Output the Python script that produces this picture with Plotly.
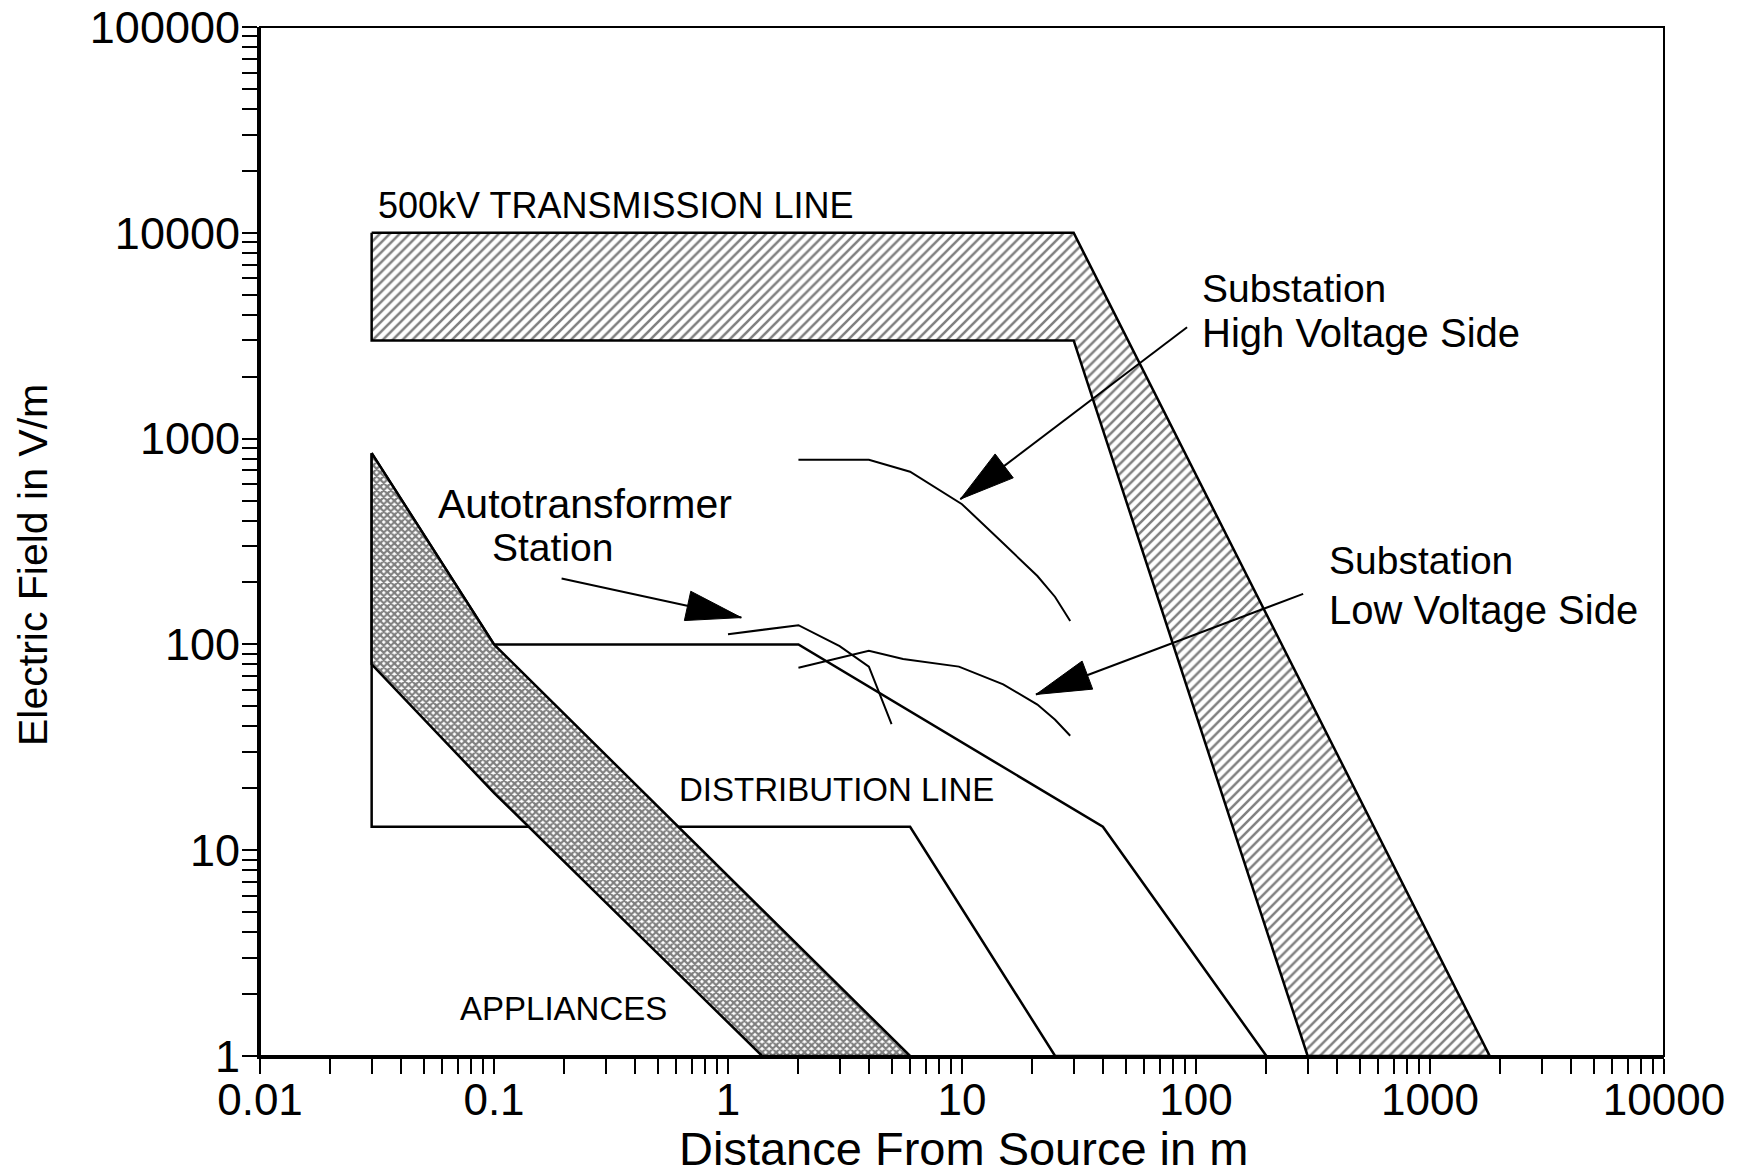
import math
import plotly.graph_objects as go

# ---------------- data ----------------
trans_upper_x = [0.03, 30, 1800]
trans_upper_y = [10000, 10000, 1]
trans_lower_x = [0.03, 30, 300]
trans_lower_y = [3000, 3000, 1]

dist_upper_x = [0.1, 2, 40, 100, 200]
dist_upper_y = [100, 100, 13, 3, 1]
dist_lower_x = [0.03, 6, 25]
dist_lower_y = [13, 13, 1]

app_upper_x = [0.03, 0.1, 6]
app_upper_y = [850, 100, 1]
app_lower_x = [0.03, 0.1, 1.4]
app_lower_y = [80, 19, 1]

hv_x = [2, 4, 6, 10, 15, 21, 25, 29]
hv_y = [790, 790, 690, 480, 310, 215, 170, 130]
lv_x = [2, 4, 5.6, 9.7, 15, 21, 25, 29]
lv_y = [77, 93, 85, 78, 64, 51, 43, 36]
auto_x = [1, 2, 3, 4, 5]
auto_y = [112, 124, 98, 78, 41]

x_tick_vals = [0.01, 0.1, 1, 10, 100, 1000, 10000]
x_tick_text = ["0.01", "0.1", "1", "10", "100", "1000", "10000"]
y_tick_vals = [1, 10, 100, 1000, 10000, 100000]
y_tick_text = ["1", "10", "100", "1000", "10000", "100000"]

# arrows: (tail x, tail y, tip x, tip y)
arrow_tail_x = [91.6, 287, 0.1945]
arrow_tail_y = [3475, 176, 209]
arrow_tip_x = [9.84, 20.7, 1.14]
arrow_tip_y = [508, 57.1, 135]

# ---------------- layout geometry ----------------
W, H = 1751, 1172
OFF = 8  # page body margin of the html
ML, MT = 260 - OFF, 27 - OFF
MR = W - (1664 - OFF)
MB = H - (1056 - OFF)
PW, PH = W - ML - MR, H - MT - MB
XR, YR = (-2, 4), (0, 5)
PXD = PW / (XR[1] - XR[0])   # px per decade x
PYD = PH / (YR[1] - YR[0])   # px per decade y

FONT = "Liberation Sans, Arial, Helvetica, sans-serif"

fig = go.Figure()

def poly(xu, yu, xl, yl):
    xs = list(xu) + list(xl)[::-1] + [xu[0]]
    ys = list(yu) + list(yl)[::-1] + [yu[0]]
    return xs, ys

# transmission line band
tx, ty = poly(trans_upper_x, trans_upper_y, trans_lower_x, trans_lower_y)
fig.add_trace(go.Scatter(
    x=tx, y=ty, mode="lines", fill="toself",
    line=dict(color="black", width=2.5),
    fillcolor="white",
    fillpattern=dict(shape="/", fgcolor="black", bgcolor="white", size=7, solidity=0.36),
    hoverinfo="skip", showlegend=False))

# distribution line outline
dx = dist_upper_x + dist_lower_x[::-1] + [app_upper_x[0], dist_upper_x[0]]
dy = dist_upper_y + dist_lower_y[::-1] + [app_upper_y[0], dist_upper_y[0]]
fig.add_trace(go.Scatter(x=dx, y=dy, mode="lines",
                         line=dict(color="black", width=2.5),
                         hoverinfo="skip", showlegend=False))

# appliances band
ax_, ay_ = poly(app_upper_x, app_upper_y, app_lower_x, app_lower_y)
fig.add_trace(go.Scatter(
    x=ax_, y=ay_, mode="lines", fill="toself",
    line=dict(color="black", width=2.5),
    fillcolor="white",
    fillpattern=dict(shape="x", fgcolor="black", bgcolor="white", size=5, solidity=0.68),
    hoverinfo="skip", showlegend=False))

# substation / autotransformer curves
for xs, ys in [(hv_x, hv_y), (lv_x, lv_y), (auto_x, auto_y)]:
    fig.add_trace(go.Scatter(x=xs, y=ys, mode="lines",
                             line=dict(color="black", width=2),
                             hoverinfo="skip", showlegend=False))

# arrows (shaft + filled triangular head)
HEAD_LEN, HEAD_W = 55, 30
for tx0, ty0, tx1, ty1 in zip(arrow_tail_x, arrow_tail_y, arrow_tip_x, arrow_tip_y):
    p0 = (math.log10(tx0) * PXD, -math.log10(ty0) * PYD)
    p1 = (math.log10(tx1) * PXD, -math.log10(ty1) * PYD)
    dxp, dyp = p1[0] - p0[0], p1[1] - p0[1]
    L = math.hypot(dxp, dyp)
    ux, uy = dxp / L, dyp / L
    nx, ny = -uy, ux
    bx, by = p1[0] - ux * HEAD_LEN, p1[1] - uy * HEAD_LEN
    c1 = (bx + nx * HEAD_W / 2, by + ny * HEAD_W / 2)
    c2 = (bx - nx * HEAD_W / 2, by - ny * HEAD_W / 2)

    def back(p):
        return 10 ** (p[0] / PXD), 10 ** (-p[1] / PYD)

    fig.add_trace(go.Scatter(x=[tx0, tx1], y=[ty0, ty1], mode="lines",
                             line=dict(color="black", width=2),
                             hoverinfo="skip", showlegend=False))
    pts = [back(p1), back(c1), back(c2), back(p1)]
    fig.add_trace(go.Scatter(x=[p[0] for p in pts], y=[p[1] for p in pts],
                             mode="lines", fill="toself", fillcolor="black",
                             line=dict(color="black", width=1),
                             hoverinfo="skip", showlegend=False))

# ---------------- labels ----------------
labels = [
    ("500kV TRANSMISSION LINE", -1.504, 4.132, "left", 36),
    ("Substation", 2.019, 3.731, "left", 39),
    ("High Voltage Side", 2.019, 3.514, "left", 40),
    ("Autotransformer", -0.611, 2.684, "center", 41),
    ("Station", -0.749, 2.473, "center", 39),
    ("Substation", 2.558, 2.408, "left", 39),
    ("Low Voltage Side", 2.558, 2.169, "left", 40),
    ("DISTRIBUTION LINE", 0.465, 1.296, "center", 33),
    ("APPLIANCES", -0.704, 0.233, "center", 33),
]
for text, lx, ly, anchor, size in labels:
    fig.add_annotation(x=lx, y=ly, xref="x", yref="y", text=text, showarrow=False,
                       xanchor=anchor, yanchor="middle",
                       font=dict(family=FONT, size=size, color="black"))

# axis titles (positions given in page pixels)
def px_to_paper(px, py):
    return (px - OFF - ML) / PW, (MT + PH - (py - OFF)) / PH

tx_, ty_ = px_to_paper(33, 565)
fig.add_annotation(x=tx_, y=ty_, xref="paper", yref="paper",
                   text="Electric Field in V/m", textangle=-90, showarrow=False,
                   xanchor="center", yanchor="middle",
                   font=dict(family=FONT, size=41, color="black"))
tx_, ty_ = px_to_paper(963, 1148)
fig.add_annotation(x=tx_, y=ty_, xref="paper", yref="paper",
                   text="Distance From Source in m", showarrow=False,
                   xanchor="center", yanchor="middle",
                   font=dict(family=FONT, size=47, color="black"))

minor_x = [m * 10 ** e for e in range(-2, 4) for m in range(2, 10)]
minor_y = [m * 10 ** e for e in range(0, 5) for m in range(2, 10)]

fig.update_xaxes(type="log", range=list(XR), tickmode="array",
                 tickvals=x_tick_vals, ticktext=x_tick_text,
                 ticks="outside", ticklen=15, tickwidth=2, tickcolor="black",
                 showline=True, linecolor="black", linewidth=3,
                 showgrid=False, zeroline=False, automargin=False,
                 ticklabelstandoff=-12, ticklabeloverflow="allow",
                 tickfont=dict(family=FONT, size=44, color="black"),
                 minor=dict(tickmode="array", tickvals=minor_x, ticks="outside",
                            ticklen=15, tickwidth=2, tickcolor="black", showgrid=False))
fig.update_yaxes(type="log", range=list(YR), tickmode="array",
                 tickvals=y_tick_vals, ticktext=y_tick_text,
                 ticks="outside", ticklen=15, tickwidth=2, tickcolor="black",
                 showline=True, linecolor="black", linewidth=3,
                 showgrid=False, zeroline=False, automargin=False,
                 ticklabelstandoff=-7, ticklabeloverflow="allow",
                 tickfont=dict(family=FONT, size=45, color="black"),
                 minor=dict(tickmode="array", tickvals=minor_y, ticks="outside",
                            ticklen=15, tickwidth=2, tickcolor="black", showgrid=False))

fig.add_shape(type="rect", xref="paper", yref="paper", x0=0, y0=0, x1=1, y1=1,
              line=dict(color="black", width=2), layer="above")

fig.update_layout(width=W, height=H, margin=dict(l=ML, r=MR, t=MT, b=MB, autoexpand=False),
                  plot_bgcolor="white", paper_bgcolor="white", showlegend=False)

fig.write_html("out.html")
